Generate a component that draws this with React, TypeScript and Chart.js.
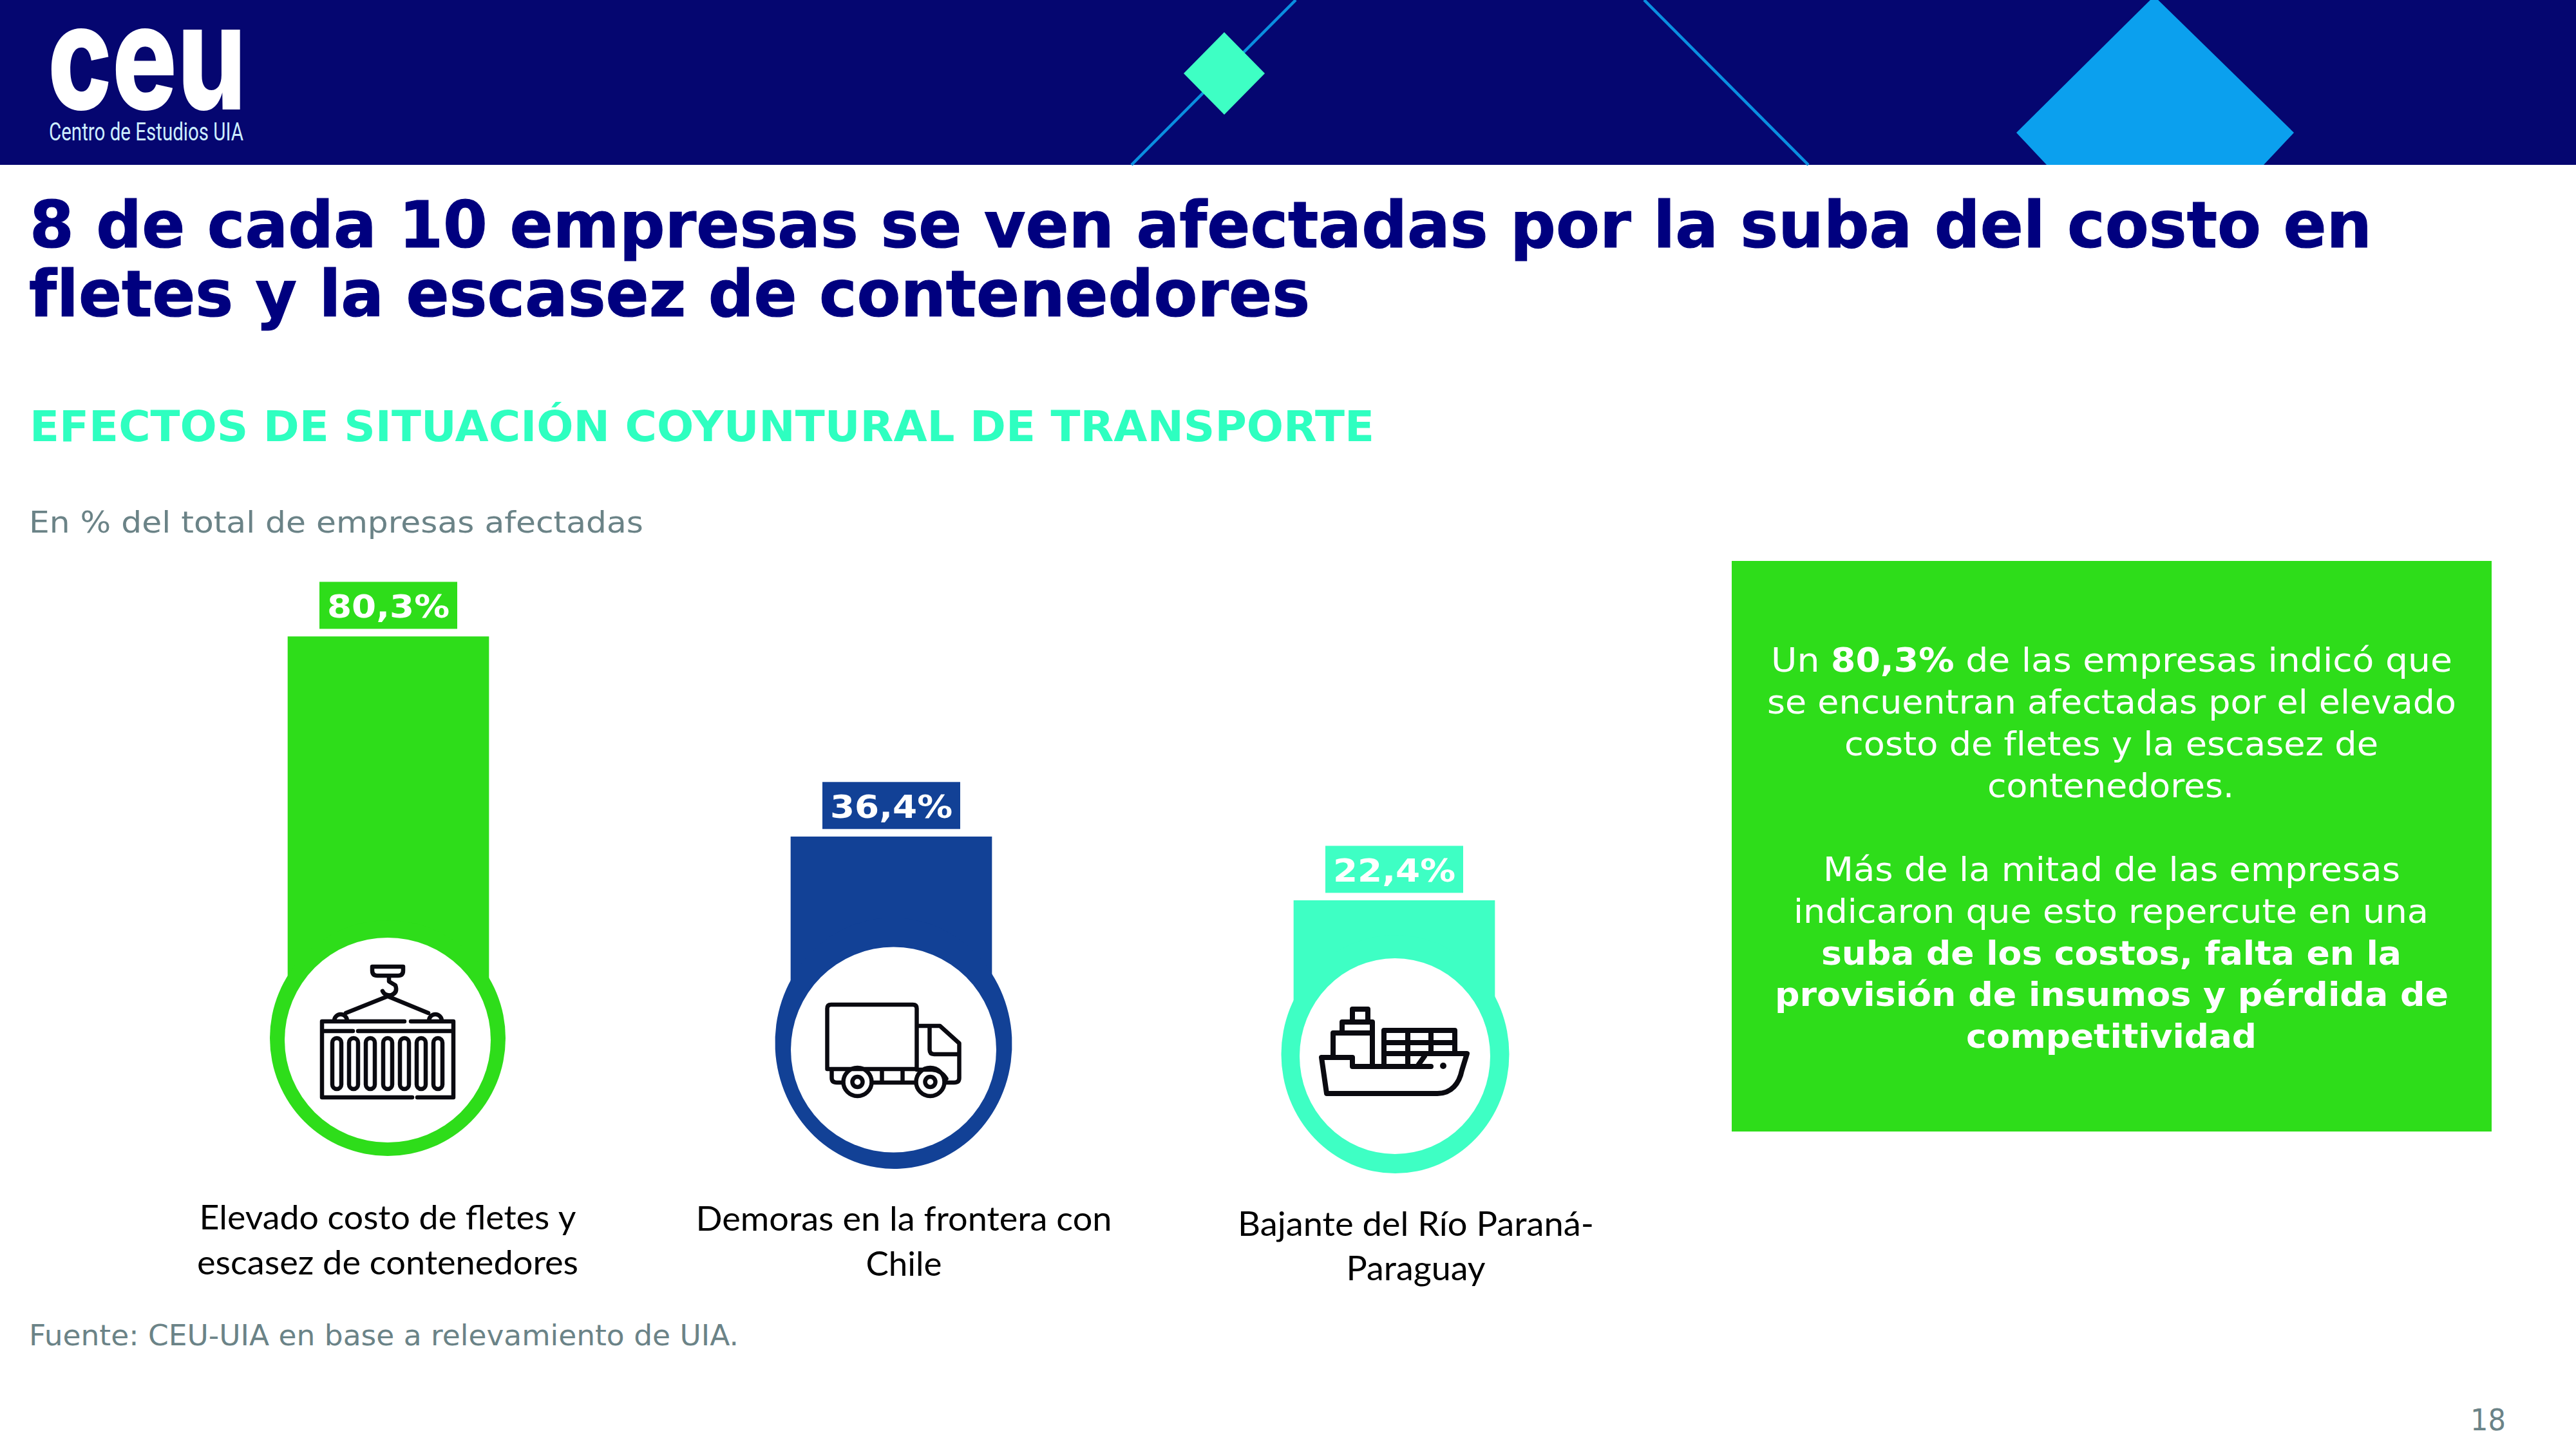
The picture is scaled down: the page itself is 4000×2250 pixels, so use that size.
import React, { useEffect, useRef } from "react";
import { Chart, registerables } from "chart.js";

Chart.register(...registerables);

// ---------- data ----------
const categories: string[][] = [
  ["Elevado costo de fletes y", "escasez de contenedores"],
  ["Demoras en la frontera con", "Chile"],
  ["Bajante del Río Paraná-", "Paraguay"],
];
const values: number[] = [80.3, 36.4, 22.4];
const barColors: string[] = ["#2EDD1A", "#124196", "#3EFFC4"];

// ---------- layout of the decoration around the bars ----------
const W = 4000;
const H = 2250;
const GREEN = "#2EDD1A";
const GRAY = "#6B8387";
const NAVY = "#00007F";
const INK = "#0A0A10";

// each relative to its bar's centre x
const rings = [
  { dx: -1, cy: 1612, rx: 183, ry: 183, rot: 0, icx: -1, icy: 1615, irx: 160, iry: 159 },
  { dx: 3.5, cy: 1620, rx: 184, ry: 195, rot: -0.05, icx: 3.5, icy: 1630, irx: 159.5, iry: 159.5 },
  { dx: 1.5, cy: 1637, rx: 177, ry: 185, rot: 0, icx: 1, icy: 1640, irx: 148, iry: 152 },
];
const labelLayout = [
  { dx: -1, baselines: [1909, 1978.5], widths: [585, 592] },
  { dx: 19.5, baselines: [1910.5, 1980.5], widths: [646, 118] },
  { dx: 33.5, baselines: [1918.5, 1988], widths: [553, 216] },
];

const iconPaths: string[] = [
  // container under a crane hook
  [
    "M-102 -29 H26 M36 -29 H102 V89 H46 M38 89 H-102 V-29",
    "M-102 -14 H-54 M-46 -14 H102",
    "M-24 -114 H24 V-108 Q24 -100 16 -100 H-16 Q-24 -100 -24 -108 Z",
    "M2 -100 V-91 L12 -85 Q16 -74 6 -70 Q-4 -68 -8 -76",
    "M0 -68 L-65 -42 M0 -68 L63 -42",
    "M-83 -30 A10 10 0 0 1 -63 -30 M64 -30 A10 10 0 0 1 84 -30",
    ...[-79, -53, -27, 0, 26, 52, 78].map(
      (x) => `M${x - 7} 4 A7 7 0 0 1 ${x + 7} 4 V69 A7 7 0 0 1 ${x - 7} 69 Z`
    ),
  ].join(" "),
  // truck
  [
    "M-97 30 H-103 V-64 Q-103 -70 -97 -70 H30 Q36 -70 36 -64 V30 Z",
    "M36 -37 H72 L102 -10 V44 Q102 51 94 51 H81",
    "M56 -37 V0 Q56 7 63 7 H102",
    "M36 31 H60 Q74 32 82 45",
    "M-96 31 V44 Q-96 51 -88 51 H-80",
    "M-32 51 H33 M-18 32 V51 M14 32 V51",
    "M-34 50 A22 22 0 1 1 -78 50 A22 22 0 1 1 -34 50 Z",
    "M79 50 A22 22 0 1 1 35 50 A22 22 0 1 1 79 50 Z",
    "M-48 50 A8 8 0 1 1 -64 50 A8 8 0 1 1 -48 50 Z",
    "M65 50 A8 8 0 1 1 49 50 A8 8 0 1 1 65 50 Z",
  ].join(" "),
  // container ship
  [
    "M-114 2 H-66 V16 H56",
    "M-114 2 L-106 58 H66 C88 58 100 42 104 22 L112 -4 H-17",
    "M-17 16 V-40 H93 V-4",
    "M20 -40 V16 M56 -40 V-4 M-17 -21 H93 M46 0 L36 14",
    "M-96 2 V-36 H-35 M-35 16 V-53 H-82 V-36 M-66 -53 V-73 H-42 V-53",
  ].join(" "),
];
const iconStroke = [6.5, 6.5, 8];
const iconDot = [null, null, { x: 75, y: 15, r: 5 }];

const titleLines = [
  { t: "8 de cada 10 empresas se ven afectadas por la suba del costo en", x: 46, y: 384, w: 3637 },
  { t: "fletes y la escasez de contenedores", x: 45, y: 491, w: 1989 },
];

// Callout: each line is a list of runs [text, isBold]
const calloutLines: { runs: [string, boolean][]; x: number; y: number; w: number }[] = [
  { runs: [["Un ", false], ["80,3%", true], [" de las empresas indicó que", false]], x: 2750, y: 1043, w: 1058 },
  { runs: [["se encuentran afectadas por el elevado", false]], x: 2744, y: 1108, w: 1070 },
  { runs: [["costo de fletes y la escasez de", false]], x: 2864, y: 1173, w: 829 },
  { runs: [["contenedores.", false]], x: 3086, y: 1238, w: 383 },
  { runs: [["Más de la mitad de las empresas", false]], x: 2831, y: 1368, w: 896 },
  { runs: [["indicaron que esto repercute en una", false]], x: 2785, y: 1433, w: 986 },
  { runs: [["suba de los costos, falta en la", true]], x: 2828, y: 1498, w: 901 },
  { runs: [["provisión de insumos y pérdida de", true]], x: 2756, y: 1562, w: 1046 },
  { runs: [["competitividad", true]], x: 3053, y: 1627, w: 451 },
];

const formatValue = (v: number) => `${v.toFixed(1).replace(".", ",")}%`;

const decorationPlugin = {
  id: "decoration",
  afterDatasetsDraw(chart: any) {
    const ctx: CanvasRenderingContext2D = chart.ctx;
    const meta = chart.getDatasetMeta(0);
    meta.data.forEach((bar: any, i: number) => {
      const ring = rings[i];
      const color = barColors[i];
      const cx = bar.x + ring.dx;
      ctx.save();
      ctx.fillStyle = color;
      ctx.beginPath();
      ctx.ellipse(cx, ring.cy, ring.rx, ring.ry, ring.rot, 0, Math.PI * 2);
      ctx.fill();
      ctx.fillStyle = "#FFFFFF";
      ctx.beginPath();
      ctx.ellipse(bar.x + ring.icx, ring.icy, ring.irx, ring.iry, 0, 0, Math.PI * 2);
      ctx.fill();

      // icon
      ctx.translate(bar.x + ring.icx, ring.icy);
      ctx.strokeStyle = INK;
      ctx.lineWidth = iconStroke[i];
      ctx.lineCap = "round";
      ctx.lineJoin = "round";
      ctx.stroke(new Path2D(iconPaths[i]));
      const dot = iconDot[i];
      if (dot) {
        ctx.fillStyle = INK;
        ctx.beginPath();
        ctx.arc(dot.x, dot.y, dot.r, 0, Math.PI * 2);
        ctx.fill();
      }
      ctx.restore();

      // value tag above the bar
      const tagW = 214;
      const tagH = 73;
      const tagTop = bar.y - 12 - tagH;
      ctx.fillStyle = color;
      ctx.fillRect(bar.x - tagW / 2, tagTop, tagW, tagH);
      const txt = formatValue(values[i]);
      ctx.save();
      ctx.font = "bold 50px 'DejaVu Sans'";
      ctx.fillStyle = "#FFFFFF";
      ctx.textAlign = "center";
      ctx.textBaseline = "alphabetic";
      const m = ctx.measureText(txt).width;
      ctx.translate(bar.x, tagTop + 56);
      ctx.scale(190 / m, 1);
      ctx.fillText(txt, 0, 0);
      ctx.restore();

      // category label under the ring
      const lay = labelLayout[i];
      const lines = chart.data.labels[i] as string[];
      lines.forEach((line: string, k: number) => {
        ctx.save();
        ctx.font = "52px Lato";
        ctx.fillStyle = "#000000";
        ctx.textAlign = "center";
        ctx.textBaseline = "alphabetic";
        const lw = ctx.measureText(line).width;
        ctx.translate(bar.x + lay.dx, lay.baselines[k]);
        ctx.scale(lay.widths[k] / lw, 1);
        ctx.fillText(line, 0, 0);
        ctx.restore();
      });
    });
  },
};

function Slide() {
  const sans = "'DejaVu Sans'";
  const noLig = { fontVariantLigatures: "none" } as React.CSSProperties;
  return (
    <svg
      width={W}
      height={H}
      viewBox={`0 0 ${W} ${H}`}
      style={{ position: "absolute", left: 0, top: 0, display: "block" }}
    >
      <rect x={0} y={0} width={W} height={H} fill="#FFFFFF" />
      <rect x={0} y={0} width={W} height={256} fill="#050670" />
      <line x1={2012} y1={0} x2={1757} y2={256} stroke="#0A8FE0" strokeWidth={4.5} />
      <line x1={2553} y1={0} x2={2808} y2={256} stroke="#0A8FE0" strokeWidth={4.5} />
      <polygon points="1901,50 1964,114 1901,178 1838,114" fill="#3EFFC4" />
      <polygon points="3345,-6 3562,206 3515,256 3178,256 3131,206" fill="#0BA0EE" />

      <text x={74} y={170} fontFamily="Inter" fontWeight={800} fontSize={228} fill="#FFFFFF" textLength={308} lengthAdjust="spacingAndGlyphs">
        ceu
      </text>
      <text x={76} y={218} fontFamily="Roboto" fontSize={38} fill="#CDEEFF" textLength={302} lengthAdjust="spacingAndGlyphs">
        Centro de Estudios UIA
      </text>

      {titleLines.map((l) => (
        <text key={l.t} x={l.x} y={l.y} style={noLig} fontFamily={sans} fontWeight="bold" fontSize={100} fill={NAVY} stroke={NAVY} strokeWidth={1.2} textLength={l.w} lengthAdjust="spacingAndGlyphs">
          {l.t}
        </text>
      ))}
      <text x={46} y={685} fontFamily={sans} fontWeight="bold" fontSize={65} fill="#2EFFC0" textLength={2088} lengthAdjust="spacingAndGlyphs">
        EFECTOS DE SITUACIÓN COYUNTURAL DE TRANSPORTE
      </text>
      <text x={45} y={827} fontFamily={sans} fontSize={47} fill={GRAY} textLength={954} lengthAdjust="spacingAndGlyphs">
        En % del total de empresas afectadas
      </text>
      <text x={45} y={2089} style={noLig} fontFamily={sans} fontSize={44} fill={GRAY} textLength={1102} lengthAdjust="spacingAndGlyphs">
        Fuente: CEU-UIA en base a relevamiento de UIA.
      </text>
      <text x={3836} y={2221} fontFamily={sans} fontSize={47} fill={GRAY} textLength={55} lengthAdjust="spacingAndGlyphs">
        18
      </text>

      <rect x={2689} y={871} width={1180} height={886} fill={GREEN} />
      {calloutLines.map((l, i) => (
        <text key={i} x={l.x} y={l.y} style={noLig} fontFamily={sans} fontSize={51} fill="#FFFFFF" textLength={l.w} lengthAdjust="spacingAndGlyphs">
          {l.runs.map(([t, b], j) => (
            <tspan key={j} fontWeight={b ? "bold" : "normal"}>
              {t}
            </tspan>
          ))}
        </text>
      ))}
    </svg>
  );
}

export default function App() {
  const ref = useRef<HTMLCanvasElement | null>(null);
  useEffect(() => {
    if (!ref.current) return;
    const chart = new Chart(ref.current, {
      type: "bar",
      data: {
        labels: categories as any,
        datasets: [
          {
            data: values,
            backgroundColor: barColors,
            borderWidth: 0,
            barThickness: 312,
          },
        ],
      },
      options: {
        responsive: false,
        animation: false,
        devicePixelRatio: 1,
        layout: { padding: { left: 212.5, right: 1444.5, top: 849, bottom: 693 } },
        plugins: { legend: { display: false }, tooltip: { enabled: false }, title: { display: false } },
        scales: {
          x: { display: false, type: "category" },
          y: { display: false, min: 0, max: 100 },
        },
      },
      plugins: [decorationPlugin],
    } as any);
    return () => chart.destroy();
  }, []);
  return (
    <div style={{ position: "absolute", left: 0, top: 0, width: W, height: H, overflow: "hidden", background: "#FFFFFF" }}>
      <Slide />
      <canvas ref={ref} width={W} height={H} style={{ position: "absolute", left: 0, top: 0, display: "block" }} />
    </div>
  );
}
